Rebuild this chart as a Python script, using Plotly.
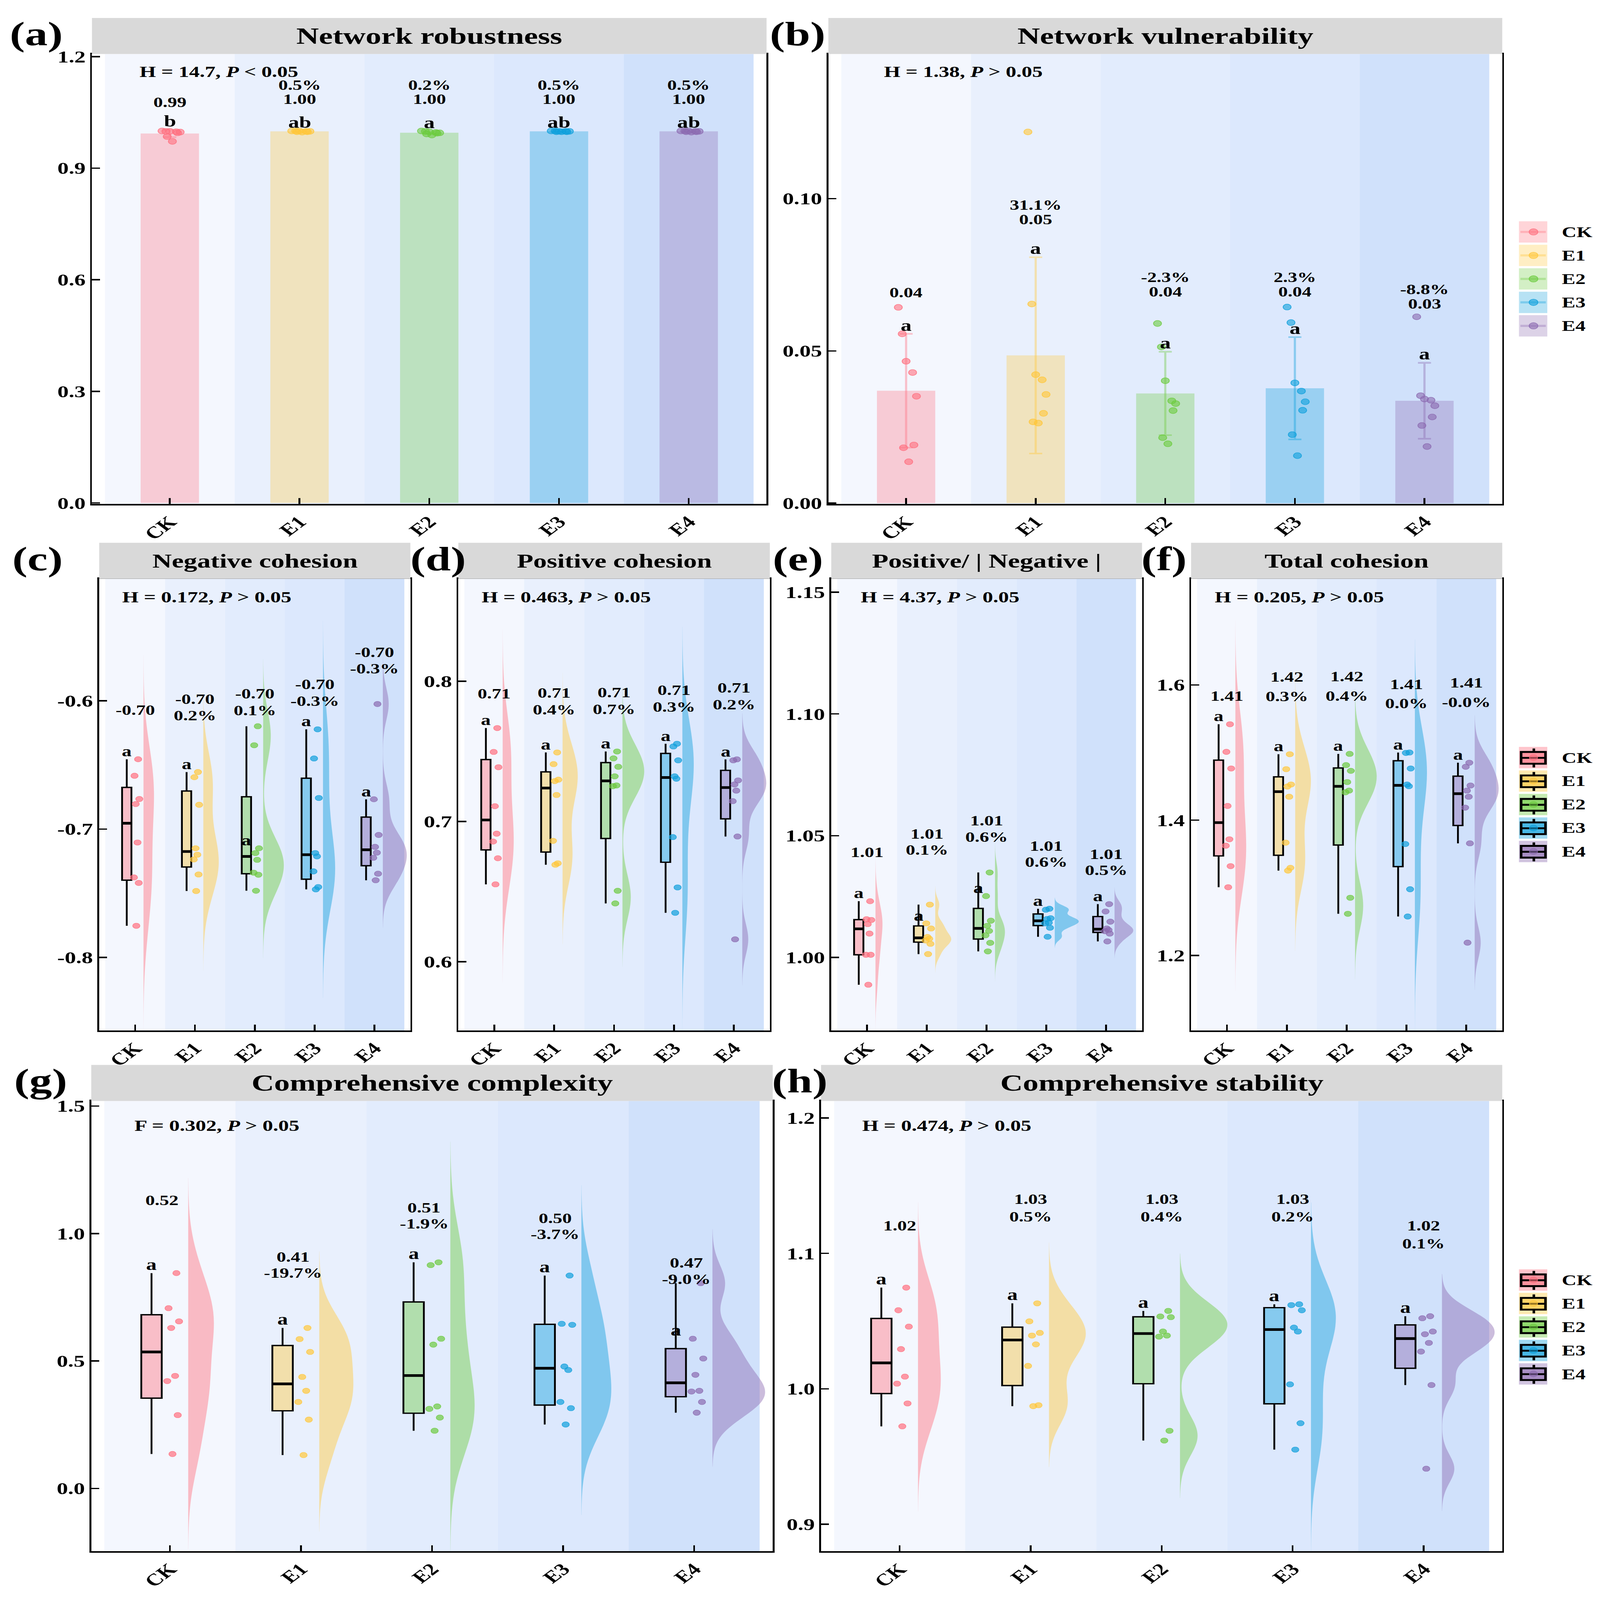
import numpy as np
import plotly.graph_objects as go

W, H = 4402, 5941
FONT = "Liberation Serif"

groups = ["CK", "E1", "E2", "E3", "E4"]
base = [(255, 111, 127), (255, 199, 58), (109, 203, 63), (15, 160, 220), (140, 107, 177)]
band = ["#F4F7FE", "#E9F0FD", "#E2ECFD", "#DCE8FD", "#D0E1FB"]

# eight replicate networks per treatment
robustness = [
    [1.000, 0.999, 0.999, 0.998, 0.997, 0.995, 0.985, 0.972],
    [1.000, 1.000, 1.000, 0.999, 0.999, 0.998, 0.998, 0.997],
    [1.000, 0.999, 0.998, 0.996, 0.995, 0.994, 0.992, 0.989],
    [1.000, 1.000, 0.999, 0.999, 0.999, 0.998, 0.998, 0.998],
    [1.000, 1.000, 1.000, 0.999, 0.999, 0.998, 0.998, 0.997],
]
vulnerability = [
    [0.0643, 0.0556, 0.0466, 0.0429, 0.0351, 0.0191, 0.0182, 0.0136],
    [0.1219, 0.0654, 0.0422, 0.0405, 0.0357, 0.0295, 0.0267, 0.0263],
    [0.0590, 0.0513, 0.0402, 0.0336, 0.0327, 0.0304, 0.0215, 0.0195],
    [0.0644, 0.0593, 0.0395, 0.0368, 0.0333, 0.0305, 0.0225, 0.0156],
    [0.0612, 0.0353, 0.0342, 0.0338, 0.0320, 0.0283, 0.0255, 0.0186],
]
neg_cohesion = [
    [-0.6456, -0.6585, -0.6766, -0.6805, -0.7105, -0.7377, -0.7420, -0.7754],
    [-0.6556, -0.6596, -0.6811, -0.7150, -0.7200, -0.7237, -0.7354, -0.7483],
    [-0.6199, -0.6347, -0.7150, -0.7187, -0.7240, -0.7340, -0.7356, -0.7481],
    [-0.6223, -0.6450, -0.6758, -0.7187, -0.7213, -0.7330, -0.7452, -0.7470],
    [-0.6026, -0.6768, -0.7046, -0.7139, -0.7184, -0.7224, -0.7348, -0.7399],
]
pos_cohesion = [
    [0.7666, 0.7496, 0.7387, 0.7109, 0.6913, 0.6857, 0.6738, 0.6552],
    [0.7492, 0.7409, 0.7298, 0.7288, 0.7189, 0.6862, 0.6702, 0.6692],
    [0.7499, 0.7450, 0.7390, 0.7322, 0.7257, 0.7252, 0.6506, 0.6416],
    [0.7554, 0.7535, 0.7436, 0.7322, 0.7305, 0.6889, 0.6530, 0.6349],
    [0.7443, 0.7436, 0.7293, 0.7264, 0.7220, 0.7145, 0.6893, 0.6160],
]
pos_neg_ratio = [
    [1.0231, 1.0157, 1.0154, 1.0137, 1.0098, 1.0011, 1.0011, 0.9888],
    [1.0217, 1.0140, 1.0119, 1.0084, 1.0077, 1.0070, 1.0056, 1.0014],
    [1.0349, 1.0252, 1.0151, 1.0130, 1.0109, 1.0091, 1.0060, 1.0025],
    [1.0200, 1.0196, 1.0161, 1.0158, 1.0143, 1.0140, 1.0122, 1.0085],
    [1.0219, 1.0189, 1.0147, 1.0119, 1.0113, 1.0108, 1.0098, 1.0066],
]
total_cohesion = [
    [1.5419, 1.5011, 1.4765, 1.4211, 1.3718, 1.3623, 1.3321, 1.3009],
    [1.4976, 1.4755, 1.4528, 1.4498, 1.4347, 1.3668, 1.3296, 1.3255],
    [1.4981, 1.4815, 1.4730, 1.4564, 1.4438, 1.4413, 1.2853, 1.2616],
    [1.5001, 1.4995, 1.4765, 1.4528, 1.4503, 1.3648, 1.2979, 1.2576],
    [1.4850, 1.4790, 1.4513, 1.4438, 1.4347, 1.4186, 1.3658, 1.2189],
]
complexity = [
    [0.8447, 0.7071, 0.6553, 0.6294, 0.4414, 0.4210, 0.2875, 0.1349],
    [0.6294, 0.5858, 0.5354, 0.4373, 0.3828, 0.3392, 0.2698, 0.1308],
    [0.8869, 0.8760, 0.5872, 0.5640, 0.3215, 0.3120, 0.2779, 0.2262],
    [0.8351, 0.6458, 0.6417, 0.4782, 0.4646, 0.3392, 0.3147, 0.2507],
    [0.8052, 0.5872, 0.5095, 0.4455, 0.3828, 0.3801, 0.3392, 0.2970],
]
stability = [
    [1.0747, 1.0580, 1.0459, 1.0293, 1.0090, 1.0038, 0.9892, 0.9723],
    [1.0631, 1.0498, 1.0413, 1.0393, 1.0328, 1.0169, 0.9879, 0.9872],
    [1.0575, 1.0534, 1.0529, 1.0423, 1.0393, 1.0385, 0.9690, 0.9618],
    [1.0624, 1.0618, 1.0580, 1.0452, 1.0423, 1.0033, 0.9746, 0.9551],
    [1.0536, 1.0521, 1.0423, 1.0403, 1.0339, 1.0275, 1.0028, 0.9410],
]

# text printed on the figure
robust_mean = ["0.99", "1.00", "1.00", "1.00", "1.00"]
robust_pct = ["", "0.5%", "0.2%", "0.5%", "0.5%"]
robust_sig = ["b", "ab", "a", "ab", "ab"]
vuln_mean = ["0.04", "0.05", "0.04", "0.04", "0.03"]
vuln_pct = ["", "31.1%", "-2.3%", "2.3%", "-8.8%"]
neg_mean = ["-0.70", "-0.70", "-0.70", "-0.70", "-0.70"]
neg_pct = ["", "0.2%", "0.1%", "-0.3%", "-0.3%"]
pos_mean = ["0.71", "0.71", "0.71", "0.71", "0.71"]
pos_pct = ["", "0.4%", "0.7%", "0.3%", "0.2%"]
ratio_mean = ["1.01", "1.01", "1.01", "1.01", "1.01"]
ratio_pct = ["", "0.1%", "0.6%", "0.6%", "0.5%"]
total_mean = ["1.41", "1.42", "1.42", "1.41", "1.41"]
total_pct = ["", "0.3%", "0.4%", "0.0%", "-0.0%"]
cplx_mean = ["0.52", "0.41", "0.51", "0.50", "0.47"]
cplx_pct = ["", "-19.7%", "-1.9%", "-3.7%", "-9.0%"]
stab_mean = ["1.02", "1.03", "1.03", "1.03", "1.02"]
stab_pct = ["", "0.5%", "0.4%", "0.2%", "0.1%"]
same_sig = ["a", "a", "a", "a", "a"]

# panel layout (pixel boxes of the plotting areas) and where the labels sit
panels = [
    dict(tag="(a)", title="Network robustness", kind="bar", data=robustness,
         box=(253, 2109, 178, 1865), yr=[-0.003, 1.207], ticks=[0, 0.3, 0.6, 0.9, 1.2], dec=1,
         stat="H = 14.7, <i>P</i> &lt; 0.05", stat_off=(129, 67), tag_r=175, tfs=86,
         mean=robust_mean, pct=robust_pct, sig=robust_sig, lab_y=[1.077, 1.085, 1.085, 1.085, 1.085],
         pct_shift=52, sig_fs=60, lab_dx=0),
    dict(tag="(b)", title="Network vulnerability", kind="bar", data=vulnerability,
         box=(2279, 4133, 178, 1865), yr=[-0.0003, 0.1475], ticks=[0, 0.05, 0.10], dec=2,
         stat="H = 1.38, <i>P</i> &gt; 0.05", stat_off=(151, 67), tag_r=2273, tfs=86,
         mean=vuln_mean, pct=vuln_pct, sig=same_sig, lab_y=[0.0691, 0.0931, 0.0694, 0.0694, 0.0654],
         pct_shift=54, sig_fs=60, lab_dx=0),
    dict(tag="(c)", title="Negative cohesion", kind="rain", data=neg_cohesion,
         box=(273, 1129, 2145, 3838), yr=[-0.857, -0.505], ticks=[-0.8, -0.7, -0.6], dec=1,
         stat="H = 0.172, <i>P</i> &gt; 0.05", stat_off=(61, 68), tag_r=175, tfs=74,
         mean=neg_mean, pct=neg_pct, sig=same_sig, lab_y=[-0.6072, -0.5987, -0.5947, -0.5873, -0.5621],
         pct_shift=-62, sig_fs=54, lab_dx=0),
    dict(tag="(d)", title="Positive cohesion", kind="rain", data=pos_cohesion,
         box=(1261, 2118, 2145, 3838), yr=[0.551, 0.873], ticks=[0.6, 0.7, 0.8], dec=1,
         stat="H = 0.463, <i>P</i> &gt; 0.05", stat_off=(62, 68), tag_r=1284, tfs=74,
         mean=pos_mean, pct=pos_pct, sig=same_sig, lab_y=[0.791, 0.7915, 0.792, 0.7935, 0.7952],
         pct_shift=-62, sig_fs=54, lab_dx=0),
    dict(tag="(e)", title="Positive/ | Negative |", kind="rain", data=pos_neg_ratio,
         box=(2287, 3142, 2145, 3838), yr=[0.970, 1.1555], ticks=[1.00, 1.05, 1.10, 1.15], dec=2,
         stat="H = 4.37, <i>P</i> &gt; 0.05", stat_off=(79, 68), tag_r=2267, tfs=74,
         mean=ratio_mean, pct=ratio_pct, sig=same_sig, lab_y=[1.0431, 1.0507, 1.0562, 1.0457, 1.0424],
         pct_shift=-60, sig_fs=54, lab_dx=0),
    dict(tag="(f)", title="Total cohesion", kind="rain", data=total_cohesion,
         box=(3277, 4133, 2145, 3838), yr=[1.089, 1.757], ticks=[1.2, 1.4, 1.6], dec=1,
         stat="H = 0.205, <i>P</i> &gt; 0.05", stat_off=(63, 68), tag_r=3267, tfs=74,
         mean=total_mean, pct=total_pct, sig=same_sig, lab_y=[1.5836, 1.6118, 1.6123, 1.6013, 1.6033],
         pct_shift=-72, sig_fs=54, lab_dx=0),
    dict(tag="(g)", title="Comprehensive complexity", kind="rain", data=complexity,
         box=(251, 2126, 4102, 5790), yr=[-0.247, 1.52], ticks=[0, 0.5, 1.0, 1.5], dec=1,
         stat="F = 0.302, <i>P</i> &gt; 0.05", stat_off=(117, 92), tag_r=187, tfs=86,
         mean=cplx_mean, pct=cplx_pct, sig=same_sig, lab_y=[1.1308, 0.9074, 1.1008, 1.06, 0.8842],
         pct_shift=-60, sig_fs=58, lab_dx=-0.06),
    dict(tag="(h)", title="Comprehensive stability", kind="rain", data=stability,
         box=(2259, 4133, 4102, 5790), yr=[0.880, 1.2125], ticks=[0.9, 1.0, 1.1, 1.2], dec=1,
         stat="H = 0.474, <i>P</i> &gt; 0.05", stat_off=(111, 92), tag_r=2279, tfs=86,
         mean=stab_mean, pct=stab_pct, sig=same_sig, lab_y=[1.1203, 1.1401, 1.1401, 1.1401, 1.1203],
         pct_shift=-66, sig_fs=58, lab_dx=0),
]

BAR_JIT = [-0.06, -0.03, 0.00, 0.05, 0.08, 0.06, -0.02, 0.02]
PT_JIT = [0.04, -0.02, 0.06, 0.00, 0.03, -0.03, 0.05, 0.01]
BOX_DX, BOX_W, VIO_DX, VIO_W = -0.14, 0.156, 0.14, 0.80


def fx(p):
    return p / W


def fy(p):
    return 1 - p / H


def rgba(c, a):
    return f"rgba({c[0]},{c[1]},{c[2]},{a})"


def kde_stats(v):
    # nrd0 bandwidth, 3-bandwidth tails and peak density (for equal-area half violins)
    q1, q3 = np.percentile(v, [25, 75])
    bw = 0.9 * min(v.std(ddof=1), (q3 - q1) / 1.34) * len(v) ** -0.2
    lo, hi = v.min() - 3 * bw, v.max() + 3 * bw
    grid = np.linspace(lo, hi, 600)
    dens = np.exp(-0.5 * ((grid[:, None] - v[None, :]) / bw) ** 2).sum(axis=1) / (len(v) * bw * np.sqrt(2 * np.pi))
    return bw, lo, hi, dens.max()


fig = go.Figure()
shapes, annos = [], []
axes = {}

for k, p in enumerate(panels, start=1):
    xa = "x" if k == 1 else f"x{k}"
    ya = "y" if k == 1 else f"y{k}"
    x0, x1, y0, y1 = p["box"]
    axes["xaxis" if k == 1 else f"xaxis{k}"] = dict(
        domain=[fx(x0), fx(x1)], anchor=ya, range=[-0.6, 4.6], tickvals=list(range(5)),
        ticktext=groups, tickangle=-45, ticks="inside", ticklen=22, tickwidth=5, tickcolor="black",
        showline=True, linecolor="black", linewidth=5, mirror=True, showgrid=False, zeroline=False,
        tickfont=dict(family=FONT, size=62, color="black", weight="bold"))
    axes["yaxis" if k == 1 else f"yaxis{k}"] = dict(
        domain=[fy(y1), fy(y0)], anchor=xa, range=p["yr"], tickvals=p["ticks"],
        ticktext=[f"{t:.{p['dec']}f}" for t in p["ticks"]],
        ticks="inside", ticklen=22, tickwidth=5, tickcolor="black",
        showline=True, linecolor="black", linewidth=5, mirror=True, showgrid=False, zeroline=False,
        tickfont=dict(family=FONT, size=62, color="black", weight="bold"))

    # background bands
    for i in range(5):
        shapes.append(dict(type="rect", xref=xa, yref=f"{ya} domain", layer="below",
                           x0=max(i - 0.5, -0.6), x1=min(i + 0.5, 4.6), y0=0, y1=1,
                           fillcolor=band[i], line=dict(width=0)))
    # title strip
    shapes.append(dict(type="rect", xref="paper", yref="paper", x0=fx(x0), x1=fx(x1),
                       y0=fy(y0), y1=fy(y0 - 135), fillcolor="#D9D9D9", line=dict(width=0)))
    annos.append(dict(xref="paper", yref="paper", x=fx((x0 + x1) / 2), y=fy(y0 - 68),
                      text=f"<b>{p['title']}</b>", showarrow=False, xanchor="center", yanchor="middle",
                      font=dict(family=FONT, size=p["tfs"], color="black")))
    annos.append(dict(xref="paper", yref="paper", x=fx(p["tag_r"]), y=fy(y0 - 75),
                      text=f"<b>{p['tag']}</b>", showarrow=False, xanchor="right", yanchor="middle",
                      font=dict(family=FONT, size=125, color="black")))
    annos.append(dict(xref="paper", yref="paper", x=fx(x0 + p["stat_off"][0]), y=fy(y0 + p["stat_off"][1]),
                      text=f"<b>{p['stat']}</b>", showarrow=False, xanchor="left", yanchor="middle",
                      font=dict(family=FONT, size=58, color="black")))

    if p["kind"] == "rain":
        kd = [kde_stats(np.array(vals)) for vals in p["data"]]
        top_peak = max(s[3] for s in kd)

    for i, vals in enumerate(p["data"]):
        v = np.array(vals)
        c = base[i]
        if p["kind"] == "bar":
            m, sd = v.mean(), v.std(ddof=1)
            fig.add_trace(go.Bar(x=[i], y=[m], width=0.45, marker=dict(color=rgba(c, 0.32), line=dict(width=0)),
                                 error_y=dict(type="data", array=[sd], color=rgba(c, 0.4), thickness=6, width=18),
                                 xaxis=xa, yaxis=ya, showlegend=False, hoverinfo="skip"))
            fig.add_trace(go.Scatter(x=[i + j for j in BAR_JIT], y=v, mode="markers",
                                     marker=dict(size=22, color=rgba(c, 0.6), line=dict(color=rgba(c, 0.85), width=2)),
                                     xaxis=xa, yaxis=ya, showlegend=False, hoverinfo="skip"))
            sig_x, sig_y = i, m + sd
        else:
            q1, med, q3 = np.percentile(v, [25, 50, 75])
            iqr = q3 - q1
            upper = v[v <= q3 + 1.5 * iqr].max()
            bw, lo, hi, peak = kd[i]
            fig.add_trace(go.Violin(x=[i + VIO_DX] * len(v), y=v, side="positive",
                                    width=VIO_W * peak / top_peak, scalemode="width", points=False,
                                    box_visible=False, meanline_visible=False,
                                    line=dict(width=0, color=rgba(c, 0)), fillcolor=rgba(c, 0.45),
                                    bandwidth=bw, spanmode="manual", span=[lo, hi],
                                    xaxis=xa, yaxis=ya, showlegend=False, hoverinfo="skip"))
            fig.add_trace(go.Box(x=[i + BOX_DX] * len(v), y=v, width=BOX_W, boxpoints="outliers", whiskerwidth=0,
                                 marker=dict(size=1, opacity=0), fillcolor=rgba(c, 0.42),
                                 line=dict(color="black", width=5),
                                 quartilemethod="linear", xaxis=xa, yaxis=ya, showlegend=False, hoverinfo="skip"))
            fig.add_trace(go.Scatter(x=[i + BOX_DX - BOX_W / 2, i + BOX_DX + BOX_W / 2], y=[med, med],
                                     mode="lines", line=dict(color="black", width=10),
                                     xaxis=xa, yaxis=ya, showlegend=False, hoverinfo="skip"))
            fig.add_trace(go.Scatter(x=[i + 0.01 + j for j in PT_JIT], y=v, mode="markers",
                                     marker=dict(size=20, color=rgba(c, 0.7), line=dict(color=rgba(c, 0.9), width=1.5)),
                                     xaxis=xa, yaxis=ya, showlegend=False, hoverinfo="skip"))
            sig_x, sig_y = i + BOX_DX, upper

        annos.append(dict(xref=xa, yref=ya, x=sig_x, y=sig_y, yshift=-3, text=f"<b>{p['sig'][i]}</b>",
                          showarrow=False, xanchor="center", yanchor="bottom",
                          font=dict(family=FONT, size=p["sig_fs"], color="black")))
        lx = i + p["lab_dx"]
        annos.append(dict(xref=xa, yref=ya, x=lx, y=p["lab_y"][i], text=f"<b>{p['mean'][i]}</b>",
                          showarrow=False, xanchor="center", yanchor="middle",
                          font=dict(family=FONT, size=52, color="black")))
        if p["pct"][i]:
            annos.append(dict(xref=xa, yref=ya, x=lx, y=p["lab_y"][i], yshift=p["pct_shift"],
                              text=f"<b>{p['pct'][i]}</b>", showarrow=False, xanchor="center",
                              yanchor="middle", font=dict(family=FONT, size=52, color="black")))


def legend(top, boxed):
    for i, g in enumerate(groups):
        c = base[i]
        y0 = top + i * 88
        x0 = 4179
        shapes.append(dict(type="rect", xref="paper", yref="paper", x0=fx(x0), x1=fx(x0 + 78),
                           y0=fy(y0 + 80), y1=fy(y0), fillcolor=rgba(c, 0.4 if boxed else 0.3),
                           line=dict(width=0)))
        if boxed:
            for a, b in [(y0 + 6, y0 + 19), (y0 + 63, y0 + 77)]:
                shapes.append(dict(type="line", xref="paper", yref="paper", x0=fx(x0 + 41), x1=fx(x0 + 41),
                                   y0=fy(a), y1=fy(b), line=dict(color="black", width=7)))
            shapes.append(dict(type="rect", xref="paper", yref="paper", x0=fx(x0 + 6), x1=fx(x0 + 73),
                               y0=fy(y0 + 63), y1=fy(y0 + 19), fillcolor=rgba(c, 0.6),
                               line=dict(color="black", width=7)))
            shapes.append(dict(type="line", xref="paper", yref="paper", x0=fx(x0 + 6), x1=fx(x0 + 73),
                               y0=fy(y0 + 41), y1=fy(y0 + 41), line=dict(color="black", width=7)))
            r = 11
        else:
            shapes.append(dict(type="rect", xref="paper", yref="paper", x0=fx(x0 + 4), x1=fx(x0 + 74),
                               y0=fy(y0 + 44), y1=fy(y0 + 36), fillcolor=rgba(c, 0.35), line=dict(width=0)))
            r = 12
        shapes.append(dict(type="circle", xref="paper", yref="paper", x0=fx(x0 + 40 - r), x1=fx(x0 + 40 + r),
                           y0=fy(y0 + 40 + r), y1=fy(y0 + 40 - r), fillcolor=rgba(c, 0.6),
                           line=dict(color=rgba(c, 0.85), width=2)))
        annos.append(dict(xref="paper", yref="paper", x=fx(4295), y=fy(y0 + 40), text=f"<b>{g}</b>",
                          showarrow=False, xanchor="left", yanchor="middle",
                          font=dict(family=FONT, size=56, color="black")))


legend(805, False)
legend(2775, True)
legend(4733, True)

fig.update_layout(width=W, height=H, margin=dict(l=0, r=0, t=0, b=0),
                  paper_bgcolor="white", plot_bgcolor="white", showlegend=False,
                  shapes=shapes, annotations=annos, font=dict(family=FONT, color="black"), **axes)

# if the browser viewport is smaller than the figure, scale the whole page into it
fit_js = """
var gd = document.getElementById('{plot_id}');
function fitPage() {
  document.documentElement.style.overflow = 'hidden';
  document.body.style.margin = '0';
  document.body.style.overflow = 'hidden';
  var vw = window.innerWidth, vh = window.innerHeight;
  var holder = gd.parentElement;
  holder.style.width = vw + 'px';
  holder.style.height = vh + 'px';
  holder.style.overflow = 'hidden';
  gd.style.transformOrigin = '0 0';
  gd.style.transform = 'scale(' + (vw / WIDTH) + ',' + (vh / HEIGHT) + ')';
}
fitPage();
window.addEventListener('resize', fitPage);
""".replace("WIDTH", str(W)).replace("HEIGHT", str(H))

fig.write_html("out.html", post_script=fit_js, config={"displayModeBar": False})
